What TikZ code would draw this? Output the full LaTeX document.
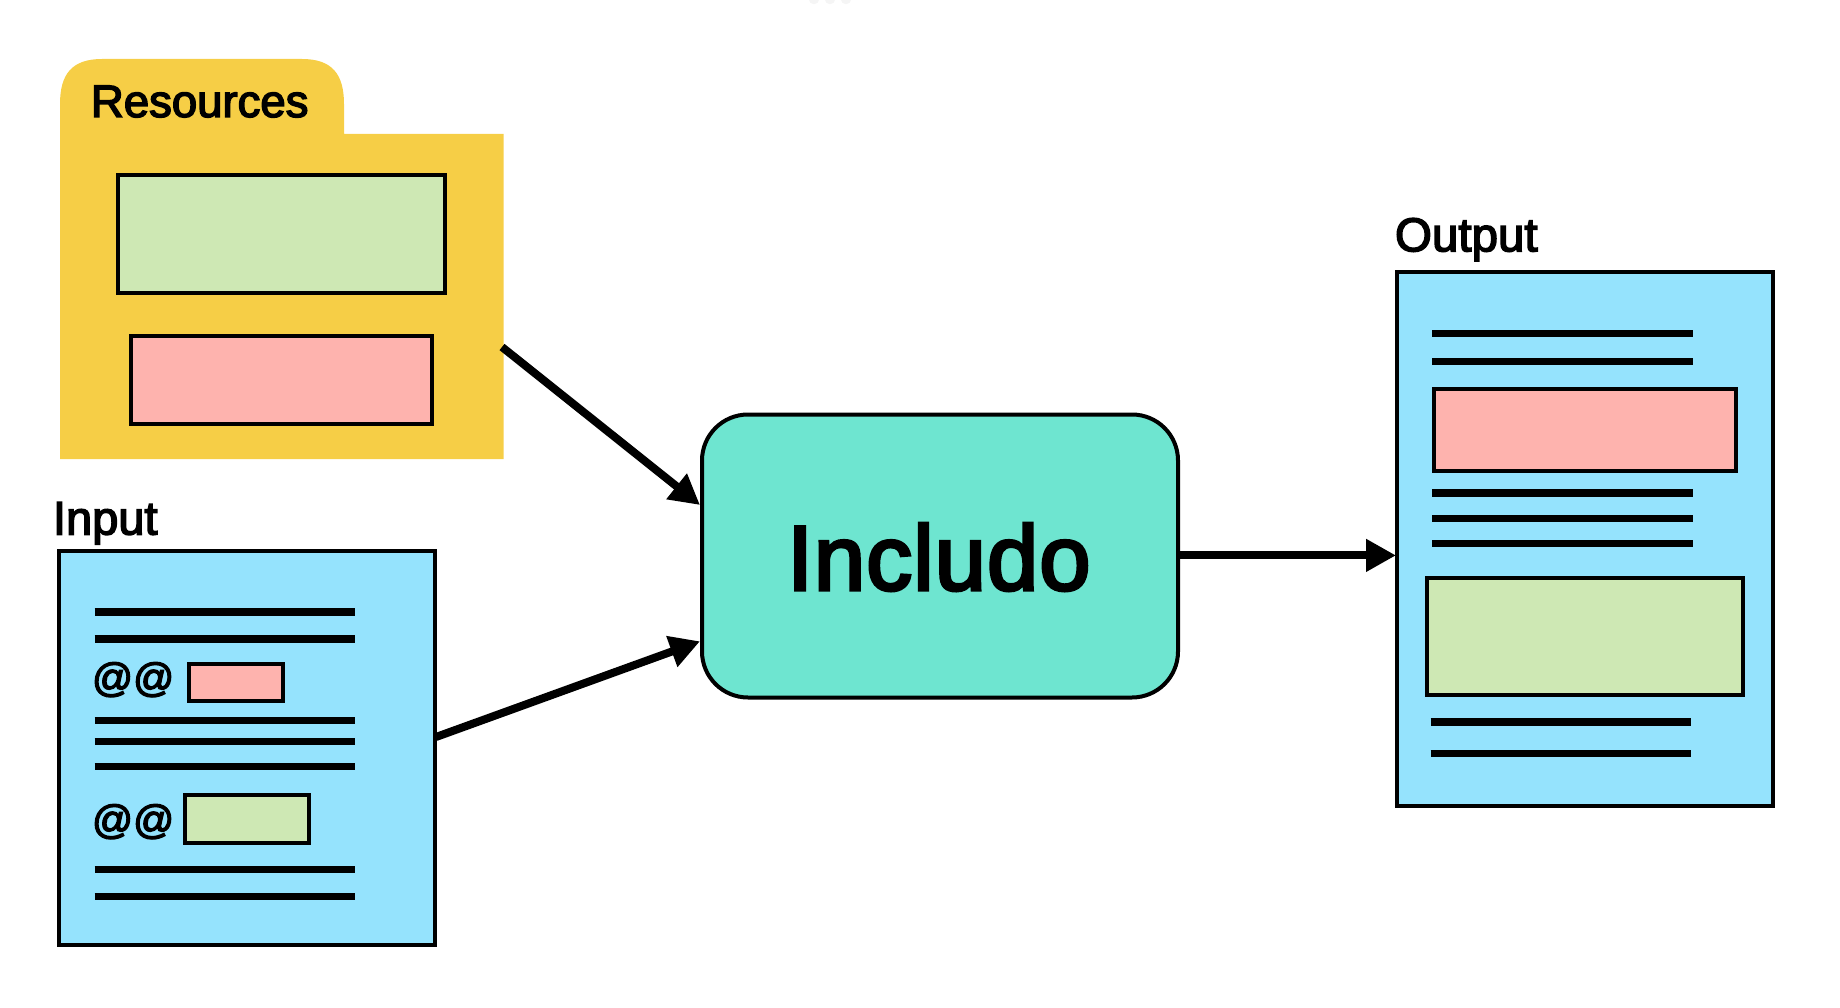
\documentclass[tikz,border=0pt]{standalone}
\usepackage{fontspec}
\setmainfont{Liberation Sans}
\newfontfamily\medfont[FakeBold=3.2]{Liberation Sans}
\newfontfamily\bigfont[FakeBold=3.5,LetterSpace=1.2]{Liberation Sans}
\usetikzlibrary{arrows.meta}
\definecolor{cfolder}{HTML}{F6CE46}
\definecolor{cgreen}{HTML}{CEE8B4}
\definecolor{cpink}{HTML}{FEB3AE}
\definecolor{cblue}{HTML}{95E3FD}
\definecolor{cteal}{HTML}{6EE5D0}
\definecolor{cdot}{HTML}{F5F5F5}
\tikzset{
  x=1pt,y=-1pt,
  boxed/.style={draw=black,line width=4pt,inner sep=0pt,outer sep=0pt,anchor=north west},
  pagebox/.style={boxed,fill=cblue},
  greenbox/.style={boxed,fill=cgreen},
  pinkbox/.style={boxed,fill=cpink},
  textline/.style={draw=black,line width=7.5pt},
  flow/.style={draw=black,line width=8pt,-{Triangle[length=30pt,width=31pt]}},
  lbl/.style={inner sep=0pt,outer sep=0pt,anchor=base west,font=\fontsize{#1}{#1}\medfont},
  at2/.style={inner sep=0pt,outer sep=0pt,anchor=base west,font=\fontsize{40.5}{40.5}\medfont},
}
\begin{document}
\begin{tikzpicture}
\useasboundingbox (0,0) rectangle (1840,1008);
\foreach \x in {814,830,846} \fill[cdot] (\x,-1) circle[radius=5.3];
% folder
\fill[cfolder] (60,134) -- (60,104) .. controls (60,74) and (72,59) .. (102,59) -- (302,59) .. controls (332,59) and (344,74) .. (344,104) -- (344,134) -- (503.5,134) -- (503.5,459) -- (60,459) -- cycle;
\node[lbl=45.5] (res) at (91,117) {Resources};
\node[greenbox,minimum width=327.6pt,minimum height=117.7pt] (resgreen) at (117.8,175.3) {};
\node[pinkbox,minimum width=301.3pt,minimum height=87.3pt] (respink) at (131,336.5) {};
\coordinate (resout) at (502,347);
% input
\node[lbl=47] (inlabel) at (53,534.5) {Input};
\node[pagebox,minimum width=375.5pt,minimum height=394pt] (input) at (59.2,550.7) {};
\foreach \y in {612.2,639.2,720.5,741.3,766.5,869.7,896.3} \draw[textline] (94.5,\y) -- (355,\y);
\node[at2] (at1) at (92,691.5) {@@};
\node[pinkbox,minimum width=94.2pt,minimum height=36.7pt] (inpink) at (188.5,663.8) {};
\node[at2] (at3) at (92,833.5) {@@};
\node[greenbox,minimum width=124pt,minimum height=48.5pt] (ingreen) at (185,794.5) {};
\coordinate (inout) at (436,737);
% includo
\node[draw=black,line width=4pt,fill=cteal,rounded corners=46pt,minimum width=476pt,minimum height=283pt,inner sep=0pt,outer sep=0pt,anchor=north west] (inc) at (702,414.5) {};
\node[inner sep=0pt,outer sep=0pt,anchor=base,font=\fontsize{92}{92}\bigfont] (inctext) at (939,590) {Includo};
\coordinate (inctop) at (700,505);
\coordinate (incbot) at (700,641.3);
\coordinate (incout) at (1179,555.4);
% output
\node[lbl=47.5] (outlabel) at (1395,251.3) {Output};
\node[pagebox,minimum width=376pt,minimum height=534pt] (output) at (1397.3,271.7) {};
\foreach \y in {333.6,361.3,493.1,518.3,543.7} \draw[textline] (1432.4,\y) -- (1693,\y);
\foreach \y in {722.2,753.7} \draw[textline] (1430.6,\y) -- (1691,\y);
\node[pinkbox,minimum width=301.4pt,minimum height=82pt] (outpink) at (1434.4,389.3) {};
\node[greenbox,minimum width=316pt,minimum height=117pt] (outgreen) at (1426.8,577.5) {};
\coordinate (outin) at (1396,555.4);
% connectors
\draw[flow] (resout) -- (inctop);
\draw[flow] (inout) -- (incbot);
\draw[flow] (incout) -- (outin);
\end{tikzpicture}
\end{document}
